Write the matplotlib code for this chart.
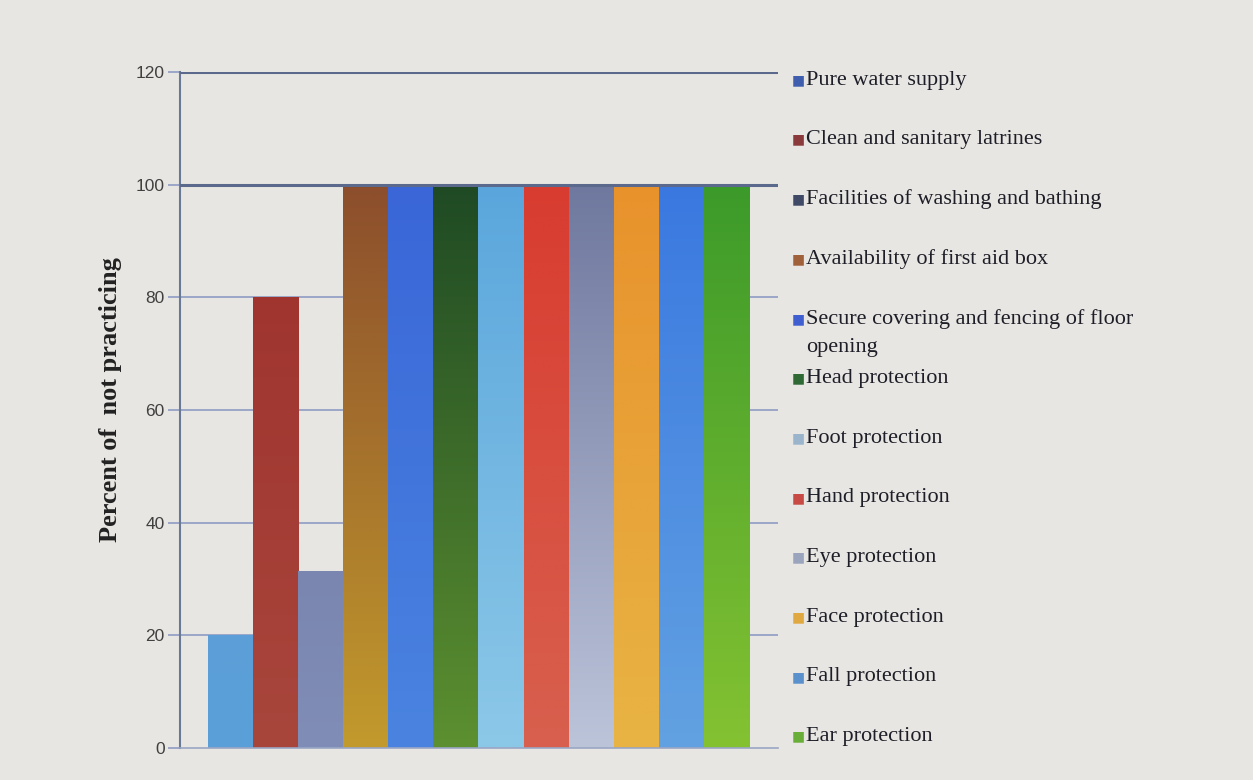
import matplotlib
matplotlib.use('agg')
import matplotlib.pyplot as plt
import numpy as np
from matplotlib.colors import LinearSegmentedColormap

categories = [
    "Pure water supply",
    "Clean and sanitary latrines",
    "Facilities of washing and bathing",
    "Availability of first aid box",
    "Secure covering and fencing of floor\nopening",
    "Head protection",
    "Foot protection",
    "Hand protection",
    "Eye protection",
    "Face protection",
    "Fall protection",
    "Ear protection",
]
values = [20, 80, 31.5, 100, 100, 100, 100, 100, 100, 100, 100, 100]

# bar shading (top colour, bottom colour) - the photo shows gradients
bar_top = ['#5d9fd8', '#a0352f', '#7a86b0', '#8c4e2c', '#3a66d8', '#1f4a24',
           '#5aa6dc', '#d83c30', '#6f789e', '#e8922c', '#3a78e0', '#3c9a2a']
bar_bottom = ['#5aa0d8', '#a8463c', '#808db6', '#c29a2c', '#4a84e0', '#5c9030',
              '#8cc8e8', '#d8604e', '#bcc4da', '#e8b444', '#62a2e2', '#84c232']
# legend swatches
swatch = ['#3f5fae', '#8a3a3a', '#404a66', '#a0603a', '#3f5fd0', '#2f6a35',
          '#9ab4cc', '#c84a44', '#9aa4bc', '#e0a840', '#5a90cc', '#6aae3a']

bg = '#e8e6e2'
fig = plt.figure(figsize=(12.53, 7.8), dpi=100, facecolor=bg)
ax = fig.add_axes([0.1437, 0.041, 0.477, 0.8667])
ax.set_facecolor('none')

x = np.arange(len(values))
bars = ax.bar(x, values, width=1.0, color=bar_top, zorder=2, linewidth=0)

# vertical gradient in each bar
grad = np.linspace(0, 1, 256).reshape(-1, 1)
for b, ct, cb in zip(bars, bar_top, bar_bottom):
    cmap = LinearSegmentedColormap.from_list('g', [cb, ct])
    x0, w, h = b.get_x(), b.get_width(), b.get_height()
    im = ax.imshow(grad, cmap=cmap, origin='lower', aspect='auto',
                   extent=(x0, x0 + w, 0, h), zorder=2.5)
    im.set_clip_path(b)

ax.set_xlim(-1.12, 12.14)
ax.set_ylim(0, 120)
ax.set_yticks(range(0, 121, 20))
ax.set_xticks([])

for yv in range(20, 100, 20):
    ax.axhline(yv, color='#8e9cc4', lw=1.2, zorder=1)
ax.axhline(100, color='#5b6a8c', lw=2.2, zorder=3)
ax.axhline(120, color='#5b6a8c', lw=2.2, zorder=3)

for s in ['top', 'right']:
    ax.spines[s].set_visible(False)
ax.spines['left'].set_color('#6a7898')
ax.spines['left'].set_linewidth(1.5)
ax.spines['bottom'].set_color('#9aa6c4')
ax.spines['bottom'].set_linewidth(1.2)
ax.tick_params(axis='y', length=9, width=1.2, color='#8e9cc4',
               labelsize=12.5, labelcolor='#404040', pad=2)
for lab in ax.get_yticklabels():
    lab.set_family('Liberation Sans')

ax.set_ylabel("Percent of  not practicing", family='Liberation Serif',
              fontweight='bold', fontsize=19, color='#222222')
ax.yaxis.set_label_coords(-0.097, 0.515)

# legend drawn as text entries on the right
y0, step, line_gap = 80, 59.7, 29
for i, (lab, c) in enumerate(zip(categories, swatch)):
    yp = 1 - (y0 + step * i) / 780
    fig.text(0.6315, yp, '\u25a0', color=c, fontsize=10, va='center', ha='left',
             family='DejaVu Sans')
    for k, line in enumerate(lab.split('\n')):
        fig.text(0.6435, yp - k * line_gap / 780, line, fontsize=16,
                 va='center', ha='left', family='Liberation Serif',
                 color='#1e1e28')

fig.savefig('out.png', dpi=100, facecolor=bg)
